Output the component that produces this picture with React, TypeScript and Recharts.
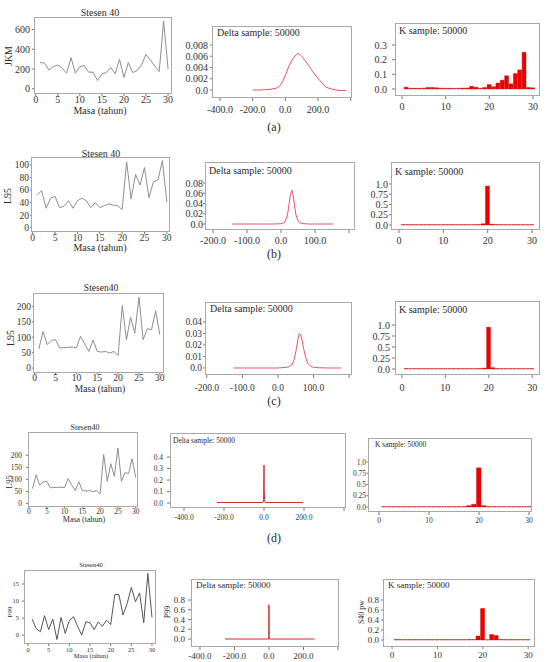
import React from 'react';
import { LineChart, Line, XAxis, YAxis, BarChart, Bar } from 'recharts';

const FONT = '"Liberation Serif", "Times New Roman", Times, serif';

// ---------- data ----------
const years = [1, 2, 3, 4, 5, 6, 7, 8, 9, 10, 11, 12, 13, 14, 15, 16, 17, 18, 19, 20, 21, 22, 23, 24, 25, 26, 27, 28, 29, 30];
const jkm = [268, 258, 191, 225, 241, 208, 158, 315, 158, 225, 235, 168, 168, 84, 151, 164, 215, 151, 298, 114, 265, 164, 184, 241, 349, 292, 231, 174, 687, 201];
const l95b = [52, 59, 31, 47, 50, 32, 34, 43, 31, 43, 47, 43, 32, 40, 32, 35, 38, 36, 35, 29, 105, 46, 85, 68, 96, 48, 73, 76, 107, 41];
const l95c = [62, 119, 76, 90, 92, 65, 67, 67, 68, 66, 103, 78, 54, 91, 54, 52, 54, 49, 54, 40, 203, 92, 165, 113, 230, 92, 128, 124, 186, 108];
const p99 = [4.7, 1.9, 1.0, 5.7, 1.6, 4.7, -1.3, 5.2, 0.5, 4.3, 5.4, 2.6, 0, 3.9, 3.6, 1.6, 3.9, 2.6, 4.4, 3.1, 11.9, 11.9, 5.9, 9.3, 14, 9.8, 12.4, 3.6, 18.1, 5.2];

const deltaAX = [-200, -150, -100, -57, -35, -16, 5, 24, 40, 55, 75, 90, 106, 127, 147, 167, 188, 208, 228, 249, 280, 310, 340, 372];
const deltaAY = [0, 0, 0.0001, 0.0003, 0.0007, 0.0015, 0.003, 0.0044, 0.0053, 0.0059, 0.0065, 0.0063, 0.0058, 0.005, 0.0042, 0.0033, 0.0025, 0.0018, 0.0011, 0.0005, 0.0002, 0, -0.0001, -0.0001];
const deltaBX = [-144, -60, -20, 0, 10, 16, 20, 24, 28, 32, 36, 40, 44, 50, 60, 80, 153];
const deltaBY = [0, 0, 0, 0.0005, 0.003, 0.01, 0.022, 0.04, 0.058, 0.066, 0.055, 0.035, 0.018, 0.006, 0.001, 0, 0];
const deltaCX = [-125, -60, 0, 20, 30, 40, 46, 52, 56, 60, 64, 68, 72, 78, 84, 92, 100, 115, 140, 178];
const deltaCY = [0, 0, 0, 0.0005, 0.001, 0.003, 0.008, 0.017, 0.025, 0.03, 0.029, 0.024, 0.017, 0.009, 0.004, 0.0015, 0.0006, 0.0002, 0, 0];
const deltaDX = [-235, -10, -2, 0, 1, 2, 3, 5, 10, 195];
const deltaDY = [0.005, 0.005, 0.01, 0.33, 0.12, 0.08, 0.03, 0.01, 0.005, 0.005];
const deltaEX = [-255, -1, 0, 1, 265];
const deltaEY = [0, 0, 0.7, 0, 0];

const kA = [0.012, 0.005, 0.005, 0.005, 0.005, 0.01, 0.01, 0.008, 0.005, 0.005, 0.005, 0.004, 0.005, 0.006, 0.007, 0.018, 0.012, 0.005, 0.01, 0.03, 0.015, 0.04, 0.06, 0.09, 0.035, 0.105, 0.13, 0.25, 0.01, 0.008];
const kB = [0.01, 0.008, 0.008, 0.008, 0.008, 0.008, 0.008, 0.008, 0.008, 0.008, 0.008, 0.008, 0.008, 0.008, 0.008, 0.008, 0.008, 0.01, 0.03, 0.95, 0.02, 0.01, 0.008, 0.008, 0.008, 0.008, 0.008, 0.008, 0.008, 0.008];
const kC = [0.01, 0.008, 0.008, 0.008, 0.008, 0.008, 0.008, 0.008, 0.008, 0.008, 0.008, 0.008, 0.008, 0.008, 0.008, 0.008, 0.008, 0.01, 0.02, 0.95, 0.03, 0.01, 0.008, 0.008, 0.008, 0.008, 0.008, 0.008, 0.008, 0.008];
const kD = [0.008, 0.008, 0.008, 0.008, 0.008, 0.008, 0.008, 0.008, 0.008, 0.008, 0.008, 0.008, 0.008, 0.008, 0.008, 0.008, 0.01, 0.03, 0.06, 0.87, 0.03, 0.01, 0.008, 0.008, 0.008, 0.008, 0.008, 0.008, 0.008, 0.008];
const kE = [0.008, 0.008, 0.008, 0.008, 0.008, 0.008, 0.008, 0.008, 0.008, 0.008, 0.008, 0.008, 0.008, 0.008, 0.008, 0.008, 0.01, 0.01, 0.08, 0.63, 0.005, 0.11, 0.09, 0.01, 0.008, 0.008, 0.008, 0.008, 0.008, 0.008];

const yearTicks = [0, 5, 10, 15, 20, 25, 30];
const kTicks = [0, 10, 20, 30];
const probTicks = [0, 0.25, 0.5, 0.75, 1.0];

const zip = (xs: number[], ys: number[]) => xs.map((x, i) => ({ x, y: ys[i] }));

// ---------- formatters ----------
const f1 = (v: number) => v.toFixed(1);
const fDelta400 = (v: number) => (v === 400 ? '' : v.toFixed(1));
const fDelta200 = (v: number) => (v === 200 ? '' : v.toFixed(1));
const fProb = (v: number) => (v === 0 ? '0.0' : v === 1 ? '1.0' : String(v));
const fSmall = (d: number) => (v: number) => (v === 0 ? '0.0' : v.toFixed(d));

type Fmt = (v: number) => string;
interface Cfg {
  box: number[];
  xD: number[];
  yD: number[];
  xT: number[];
  yT: number[];
  xF?: Fmt;
  yF?: Fmt;
  fs: number;
  xTS: number;
  xTM: number;
  yTS: number;
  yTM: number;
}

const PADL = 50;
const PADB = 26;
const PADT = 2;
const PADR = 2;

function Panel({ cfg, kind, rows, color }: { cfg: Cfg; kind: 'line' | 'bar'; rows: { x: number; y: number }[]; color: string }) {
  const [bx, by, bw, bh] = cfg.box;
  const W = PADL + bw + PADR;
  const H = PADT + bh + PADB;
  const tickStyle = { fontSize: cfg.fs, fill: '#333', fontFamily: FONT };
  const margin = { top: PADT, right: PADR, left: 0, bottom: 0 };
  const barW = bw / (cfg.xD[1] - cfg.xD[0]);
  const xAxis = (
    <XAxis
      dataKey="x"
      type="number"
      domain={cfg.xD}
      ticks={cfg.xT}
      tickFormatter={cfg.xF}
      allowDataOverflow
      interval={0}
      height={PADB}
      axisLine={false}
      tickLine={{ stroke: '#777' }}
      tickSize={cfg.xTS}
      tickMargin={cfg.xTM}
      tick={tickStyle}
    />
  );
  const yAxis = (
    <YAxis
      type="number"
      domain={cfg.yD}
      ticks={cfg.yT}
      tickFormatter={cfg.yF}
      allowDataOverflow
      interval={0}
      width={PADL}
      axisLine={false}
      tickLine={{ stroke: '#777' }}
      tickSize={cfg.yTS}
      tickMargin={cfg.yTM}
      tick={tickStyle}
    />
  );
  return (
    <div style={{ position: 'absolute', left: bx - PADL, top: by - PADT, width: W, height: H }}>
      {kind === 'bar' ? (
        <BarChart width={W} height={H} data={rows} margin={margin}>
          {xAxis}
          {yAxis}
          <Bar dataKey="y" fill={color} stroke="#c00000" strokeWidth={0.4} barSize={barW} isAnimationActive={false} />
        </BarChart>
      ) : (
        <LineChart width={W} height={H} data={rows} margin={margin}>
          {xAxis}
          {yAxis}
          <Line dataKey="y" type="linear" stroke={color} strokeWidth={1} dot={false} isAnimationActive={false} />
        </LineChart>
      )}
      <div
        style={{
          position: 'absolute',
          left: PADL,
          top: PADT,
          width: bw,
          height: bh,
          border: '1px solid #a8a8a8',
          boxSizing: 'border-box',
          pointerEvents: 'none',
        }}
      />
    </div>
  );
}

function T({ x, y, s, fs, rot, left }: { x: number; y: number; s: string; fs: number; rot?: boolean; left?: boolean }) {
  const tr = left ? 'translate(0,-50%)' : rot ? 'translate(-50%,-50%) rotate(-90deg)' : 'translate(-50%,-50%)';
  return (
    <div
      style={{
        position: 'absolute',
        left: x,
        top: y,
        transform: tr,
        whiteSpace: 'nowrap',
        fontSize: fs,
        lineHeight: 1,
        fontFamily: FONT,
        color: '#2a2a2a',
      }}
    >
      {s}
    </div>
  );
}

// ---------- panel configs ----------
const A1: Cfg = { box: [34, 17, 138, 77], xD: [-0.4, 30.9], yD: [-53, 727], xT: yearTicks, yT: [0, 200, 400, 600], fs: 10, xTS: 2, xTM: 0, yTS: 2, yTM: 2 };
const A2: Cfg = { box: [212, 26, 140, 72], xD: [-449, 408], yD: [-0.00142, 0.01138], xT: [-400, -200, 0, 200, 400], yT: [0, 0.002, 0.004, 0.006, 0.008], xF: fDelta400, yF: fSmall(3), fs: 10, xTS: 3, xTM: 5, yTS: 2, yTM: 2 };
const A3: Cfg = { box: [395, 23, 145, 73], xD: [-1.6, 31.6], yD: [-0.048, 0.45], xT: kTicks, yT: [0, 0.1, 0.2, 0.3], yF: f1, fs: 10, xTS: 3, xTM: 4, yTS: 3, yTM: 5 };

const B1: Cfg = { box: [31, 157, 139, 75], xD: [-0.38, 30.7], yD: [-6.9, 112.8], xT: yearTicks, yT: [0, 20, 40, 60, 80, 100], fs: 9.5, xTS: 2, xTM: 0, yTS: 1, yTM: 1 };
const B2: Cfg = { box: [205, 162, 150, 68], xD: [-223.5, 217.6], yD: [-0.0117, 0.121], xT: [-200, -100, 0, 100, 200], yT: [0, 0.02, 0.04, 0.06, 0.08], xF: fDelta200, yF: fSmall(2), fs: 10, xTS: 3, xTM: 4, yTS: 2, yTM: 0 };
const B3: Cfg = { box: [391, 162, 149, 68], xD: [-1.8, 31.8], yD: [-0.122, 1.537], xT: kTicks, yT: probTicks, yF: fProb, fs: 10, xTS: 3, xTM: 4, yTS: 2, yTM: 1 };

const C1: Cfg = { box: [33, 293, 131, 80], xD: [-0.4, 31.0], yD: [-16, 243.5], xT: yearTicks, yT: [0, 50, 100, 150, 200], fs: 9.5, xTS: 1.5, xTM: 0, yTS: 1, yTM: 1 };
const C2: Cfg = { box: [205, 302, 147, 73], xD: [-205, 208], yD: [-0.0061, 0.0574], xT: [-200, -100, 0, 100, 200], yT: [0, 0.01, 0.02, 0.03, 0.04], xF: fDelta200, yF: fSmall(2), fs: 9.5, xTS: 3, xTM: 6, yTS: 2, yTM: 1 };
const C3: Cfg = { box: [395, 301, 145, 74], xD: [-1.6, 31.8], yD: [-0.136, 1.545], xT: kTicks, yT: probTicks, yF: fProb, fs: 10, xTS: 3, xTM: 6, yTS: 3, yTM: 2 };

const D1: Cfg = { box: [28, 432, 110, 75], xD: [-0.28, 30.65], yD: [-14, 296], xT: yearTicks, yT: [0, 50, 100, 150, 200], fs: 7.5, xTS: 1.5, xTM: 0.5, yTS: 2, yTM: 4 };
const D2: Cfg = { box: [170, 433, 176, 75], xD: [-470, 410], yD: [-0.043, 0.609], xT: [-400, -200, 0, 200, 400], yT: [0, 0.1, 0.2, 0.3, 0.4], xF: fDelta400, yF: f1, fs: 7.5, xTS: 3, xTM: 4, yTS: 3, yTM: 4 };
const D3: Cfg = { box: [368, 438, 164, 74], xD: [-2.2, 30.6], yD: [-0.111, 1.533], xT: kTicks, yT: probTicks, yF: fProb, fs: 7.5, xTS: 3, xTM: 3, yTS: 1.5, yTM: 0.5 };

const E1: Cfg = { box: [24, 570, 132, 74], xD: [-0.97, 30.97], yD: [-2.6, 19.1], xT: yearTicks, yT: [0, 5, 10, 15], fs: 6.5, xTS: 2, xTM: 1, yTS: 2, yTM: 3 };
const E2: Cfg = { box: [191, 579, 148, 68], xD: [-452, 406], yD: [-0.164, 1.23], xT: [-400, -200, 0, 200, 400], yT: [0, 0.2, 0.4, 0.6, 0.8], xF: fDelta400, yF: f1, fs: 9, xTS: 3, xTM: 3, yTS: 3, yTM: 3 };
const E3: Cfg = { box: [383, 579, 152, 68], xD: [-2, 31.5], yD: [-0.14, 1.22], xT: kTicks, yT: [0, 0.2, 0.4, 0.6, 0.8], yF: f1, fs: 9, xTS: 2, xTM: 3, yTS: 2, yTM: 2 };

const SERIES_GRAY = '#8e8e8e';
const CURVE_PINK = '#e2566a';
const CURVE_RED = '#d42a2a';
const BAR_RED = '#ee0000';

export default function App() {
  return (
    <div style={{ position: 'absolute', left: 0, top: 0, width: 548, height: 662, overflow: 'hidden', background: '#fff', fontFamily: FONT }}>
      {/* row a */}
      <Panel cfg={A1} kind="line" rows={zip(years, jkm)} color={SERIES_GRAY} />
      <Panel cfg={A2} kind="line" rows={zip(deltaAX, deltaAY)} color={CURVE_PINK} />
      <Panel cfg={A3} kind="bar" rows={zip(years, kA)} color={BAR_RED} />
      <T x={100} y={13} s="Stesen 40" fs={10} />
      <T x={100} y={111} s="Masa (tahun)" fs={10} />
      <T x={9} y={56} s="JKM" fs={10} rot />
      <T x={217} y={33} s="Delta sample: 50000" fs={10} left />
      <T x={399} y={31} s="K sample: 50000" fs={10} left />
      <T x={274} y={127} s="(a)" fs={12} />

      {/* row b */}
      <Panel cfg={B1} kind="line" rows={zip(years, l95b)} color={SERIES_GRAY} />
      <Panel cfg={B2} kind="line" rows={zip(deltaBX, deltaBY)} color={CURVE_PINK} />
      <Panel cfg={B3} kind="bar" rows={zip(years, kB)} color={BAR_RED} />
      <T x={101} y={154} s="Stesen 40" fs={10} />
      <T x={100} y={248} s="Masa (tahun)" fs={10} />
      <T x={8} y={196} s="L95" fs={10} rot />
      <T x={209} y={171} s="Delta sample: 50000" fs={10} left />
      <T x={395} y={172} s="K sample: 50000" fs={10} left />
      <T x={274} y={254} s="(b)" fs={12} />

      {/* row c */}
      <Panel cfg={C1} kind="line" rows={zip(years, l95c)} color={SERIES_GRAY} />
      <Panel cfg={C2} kind="line" rows={zip(deltaCX, deltaCY)} color={CURVE_PINK} />
      <Panel cfg={C3} kind="bar" rows={zip(years, kC)} color={BAR_RED} />
      <T x={101} y={289} s="Stesen40" fs={9.5} />
      <T x={100} y={389.5} s="Masa (tahun)" fs={9.5} />
      <T x={11} y={338} s="L95" fs={10} rot />
      <T x={210} y={309} s="Delta sample: 50000" fs={10} left />
      <T x={399} y={310} s="K sample: 50000" fs={10} left />
      <T x={274} y={401} s="(c)" fs={12} />

      {/* row d */}
      <Panel cfg={D1} kind="line" rows={zip(years, l95c)} color={SERIES_GRAY} />
      <Panel cfg={D2} kind="line" rows={zip(deltaDX, deltaDY)} color={CURVE_RED} />
      <Panel cfg={D3} kind="bar" rows={zip(years, kD)} color={BAR_RED} />
      <T x={85} y={428} s="Stesen40" fs={8} />
      <T x={84} y={520} s="Masa (tahun)" fs={8} />
      <T x={9} y={482} s="L95" fs={8.5} rot />
      <T x={173} y={441} s="Delta sample: 50000" fs={7.5} left />
      <T x={375} y={445} s="K sample: 50000" fs={7.5} left />
      <T x={274} y={538} s="(d)" fs={12} />

      {/* row e */}
      <Panel cfg={E1} kind="line" rows={zip(years, p99)} color="#555" />
      <Panel cfg={E2} kind="line" rows={zip(deltaEX, deltaEY)} color={CURVE_RED} />
      <Panel cfg={E3} kind="bar" rows={zip(years, kE)} color={BAR_RED} />
      <T x={91} y={565} s="Stesen40" fs={6.5} />
      <T x={91} y={656} s="Masa (tahun)" fs={6.5} />
      <T x={10} y={612} s="P99" fs={7} rot />
      <T x={168} y={612} s="P99" fs={8} rot />
      <T x={362} y={612} s="S40 pw" fs={8} rot />
      <T x={196} y={585} s="Delta sample: 50000" fs={9} left />
      <T x={388} y={585} s="K sample: 50000" fs={9} left />
      <T x={274} y={667} s="(e)" fs={12} />
    </div>
  );
}
